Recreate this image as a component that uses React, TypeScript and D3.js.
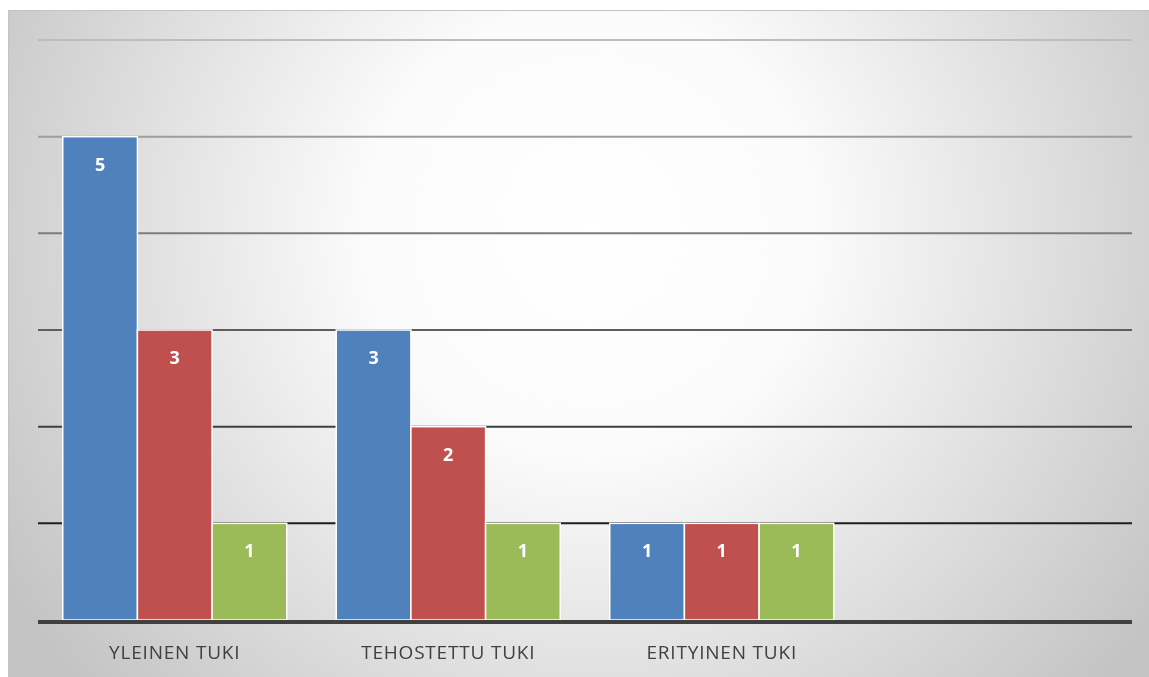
import * as d3 from "d3";

const categories = ["YLEINEN TUKI", "TEHOSTETTU TUKI", "ERITYINEN TUKI", ""];
const seriesNames = ["Sarja 1", "Sarja 2", "Sarja 3"];
const series1 = [5, 3, 1, null];
const series2 = [3, 2, 1, null];
const series3 = [1, 1, 1, null];
const yTicks = [0, 1, 2, 3, 4, 5, 6];

const colors = ["#4f81bd", "#c0504d", "#9bbb59"];

const width = 1149;
const height = 677;
const marginLeft = 38;
const marginRight = 17;
const marginTop = 40;
const marginBottom = 57;

const App = () => {
    const x = d3.scaleBand<string>()
        .domain(categories.map((c, i) => String(i)))
        .range([marginLeft, width - marginRight])
        .paddingInner(0.181)
        .paddingOuter(0.0905);

    const x1 = d3.scaleBand<string>()
        .domain(seriesNames)
        .range([0, x.bandwidth()]);

    const y = d3.scaleLinear()
        .domain([0, 6])
        .range([height - marginBottom, marginTop]);

    const gridColor = d3.scaleLinear<string>()
        .domain([marginTop, y(1)])
        .range(["#bdbdbd", "#1e1e1e"]);

    const allSeries = [series1, series2, series3];

    return (
        <div style={{ position: "fixed", left: 0, top: 0 }}>
            <svg width={width} height={height} style={{ display: "block" }}>
                <defs>
                    <radialGradient id="bg" gradientUnits="userSpaceOnUse" cx={590} cy={230} r={680}>
                        <stop offset="0" stopColor="#ffffff" />
                        <stop offset="0.33" stopColor="#fbfbfb" />
                        <stop offset="1" stopColor="#c4c4c4" />
                    </radialGradient>
                </defs>
                <rect x={8.5} y={10.5} width={width - 8} height={height - 10} fill="url(#bg)" stroke="#c4c4c4" strokeWidth={1} />

                {yTicks.filter(t => t > 0).map(t => (
                    <line key={t} x1={marginLeft} x2={width - marginRight} y1={y(t)} y2={y(t)}
                        stroke={gridColor(y(t))} strokeWidth={2} />
                ))}

                {categories.map((c, i) => (
                    <g key={i} transform={`translate(${x(String(i))},0)`}>
                        {allSeries.map((s, j) => {
                            const v = s[i];
                            if (v == null) return null;
                            const bx = x1(seriesNames[j]) as number;
                            return (
                                <g key={j}>
                                    <rect x={bx} y={y(v)} width={x1.bandwidth()} height={y(0) - y(v)}
                                        fill={colors[j]} stroke="#ffffff" strokeWidth={1.5} />
                                    <text x={bx + x1.bandwidth() / 2} y={y(v) + 34} textAnchor="middle"
                                        fill="#ffffff" fontFamily="'Open Sans', sans-serif" fontWeight="bold" fontSize={18}>
                                        {v}
                                    </text>
                                </g>
                            );
                        })}
                        <text x={x.bandwidth() / 2} y={659} textAnchor="middle" fill="#404040"
                            fontFamily="'Open Sans', sans-serif" fontSize={19} letterSpacing={0.8}>
                            {c}
                        </text>
                    </g>
                ))}

                <line x1={marginLeft} x2={width - marginRight} y1={y(0) + 2} y2={y(0) + 2} stroke="#404040" strokeWidth={4} />
            </svg>
        </div>
    );
};

export default App;
